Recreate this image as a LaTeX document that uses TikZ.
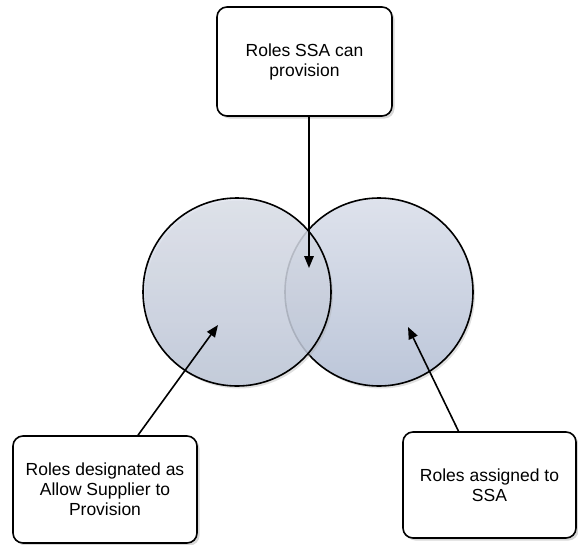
\documentclass[tikz,border=0pt]{standalone}
\usepackage{fontspec}
\setmainfont{Liberation Sans}
\usetikzlibrary{arrows.meta,positioning,shadows}
\definecolor{setTop}{RGB}{222,226,236}
\definecolor{setBottom}{RGB}{188,198,217}

\begin{document}
\begin{tikzpicture}[x=1pt, y=-1pt,
    note/.style={rectangle, draw, fill=white, line width=1.6pt, rounded corners=10pt, align=center, inner sep=0pt,
        font=\fontsize{17.5}{20}\selectfont,
        drop shadow={shadow xshift=2.5pt, shadow yshift=-2.5pt, fill=black!35, opacity=0.45}},
    setcircle/.style={circle, draw, line width=1.6pt, minimum size=188pt, inner sep=0pt,
        top color=setTop, bottom color=setBottom,
        drop shadow={shadow xshift=2pt, shadow yshift=-2.5pt, fill=black!35, opacity=0.35}},
    arrow/.style={->, >={Triangle[length=12pt,width=9.5pt]}, line width=1.6pt}]

    \useasboundingbox (0,0) rectangle (578,544);

    % the two sets, right one first so the left one lies over it
    \node[setcircle] (ssaset) at (379,292) {};
    \node[setcircle, fill opacity=0.8] (allowset) at (237,292) {};

    \node[note, minimum width=175pt, minimum height=109pt] (provbox) at (304.5,61.5) {Roles SSA can\\provision};
    \node[note, minimum width=184pt, minimum height=107pt] (allowbox) at (105,489.5) {Roles designated as\\Allow Supplier to\\Provision};
    \node[note, minimum width=173pt, minimum height=106pt] (ssabox) at (489.5,485) {Roles assigned to\\SSA};

    \coordinate (sharedtip) at (309,268);
    \coordinate (allowtip) at (218,325);
    \coordinate (ssatip) at (408,327);

    \draw[arrow] (provbox.south -| sharedtip) -- (sharedtip);
    \draw[arrow] ([xshift=33pt]allowbox.north) -- (allowtip);
    \draw[arrow] ([xshift=-31pt]ssabox.north) -- (ssatip);
\end{tikzpicture}
\end{document}
